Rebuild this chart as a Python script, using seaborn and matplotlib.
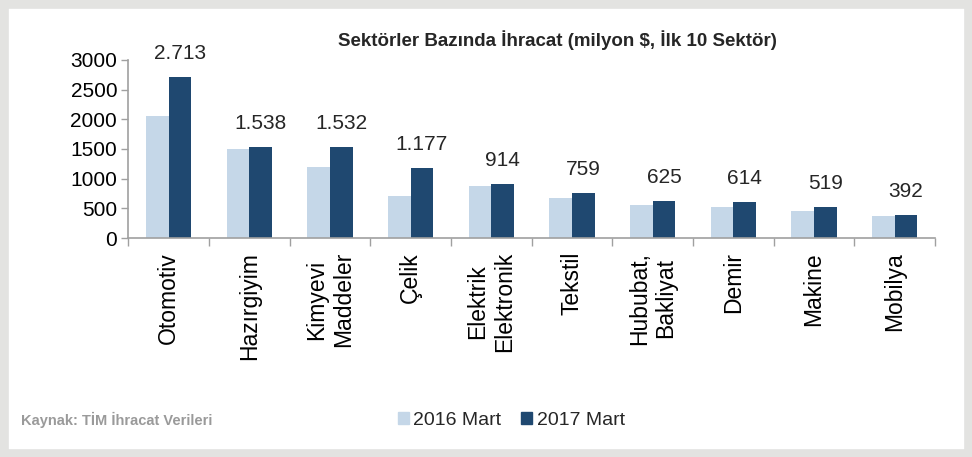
import pandas as pd
import matplotlib.pyplot as plt
import seaborn as sns
from matplotlib.patches import Rectangle, Patch

# Sektör verileri (milyon $)
sektorler = ['Otomotiv', 'Hazırgiyim', 'Kimyevi\nMaddeler', 'Çelik', 'Elektrik\nElektronik',
             'Tekstil', 'Hububat,\nBakliyat', 'Demir', 'Makine', 'Mobilya']
mart_2016 = [2050, 1500, 1190, 715, 880, 680, 565, 520, 450, 380]
mart_2017 = [2713, 1538, 1532, 1177, 914, 759, 625, 614, 519, 392]
donemler = ['2016 Mart', '2017 Mart']
renkler = ['#C5D7E8', '#1F4870']

df = pd.DataFrame({'Sektör': sektorler * 2,
                   'Dönem': [donemler[0]] * 10 + [donemler[1]] * 10,
                   'Değer': mart_2016 + mart_2017})

sns.set_theme(style='white')
plt.rcParams['font.family'] = ['Liberation Sans', 'DejaVu Sans']

fig = plt.figure(figsize=(9.72, 4.57), dpi=100)
ax = fig.add_axes([0.132, 0.479, 0.830, 0.39])

sns.barplot(data=df, x='Sektör', y='Değer', hue='Dönem', palette=renkler, saturation=1,
            width=0.56, linewidth=0, ax=ax, legend=False)

ax.set_xlim(-0.5, 9.5)
ax.set_ylim(0, 3000)
ax.set_yticks(range(0, 3001, 500))
ax.tick_params(axis='y', labelsize=15, length=5, width=1, color='#A0A0A0',
               direction='out', left=True, pad=3, labelcolor='black')
ax.set_xticks(range(10))
ax.set_xticklabels(sektorler, rotation=90, fontsize=16.5,
                   ha='center', va='top', multialignment='center')
ax.tick_params(axis='x', length=0, pad=10, labelcolor='black')
ax.set_xticks([i - 0.5 for i in range(11)], minor=True)
ax.tick_params(axis='x', which='minor', length=6, width=1, color='#A0A0A0', direction='out', bottom=True)
ax.set_xlabel('')
ax.set_ylabel('')
for s in ['top', 'right']:
    ax.spines[s].set_visible(False)
for s in ['left', 'bottom']:
    ax.spines[s].set_color('#A0A0A0')
    ax.spines[s].set_linewidth(1.2)
ax.grid(False)

# 2017 değer etiketleri
for i, v in enumerate(mart_2017):
    etiket = f'{v:,}'.replace(',', '.')
    ax.annotate(etiket, (i + 0.14, v), xytext=(0, 17), textcoords='offset points',
                ha='center', va='center', fontsize=15)

fig.text(0.573, 0.912, 'Sektörler Bazında İhracat (milyon $, İlk 10 Sektör)',
         ha='center', va='center', fontsize=13.5, fontweight='bold')
fig.text(0.022, 0.08, 'Kaynak: TİM İhracat Verileri', ha='left', va='center',
         fontsize=10.5, fontweight='bold', color='#9A9A9A')

handles = [Patch(color=renkler[0]), Patch(color=renkler[1])]
fig.legend(handles, donemler, loc='center', bbox_to_anchor=(0.526, 0.08), ncol=2,
           frameon=False, fontsize=14, handlelength=0.55, handleheight=0.55,
           handletextpad=0.25, columnspacing=1.0)

fig.patches.append(Rectangle((0, 0), 1, 1, transform=fig.transFigure, fill=False,
                             edgecolor='#E3E3E1', linewidth=12, zorder=10))

fig.savefig('out.png', dpi=100)
